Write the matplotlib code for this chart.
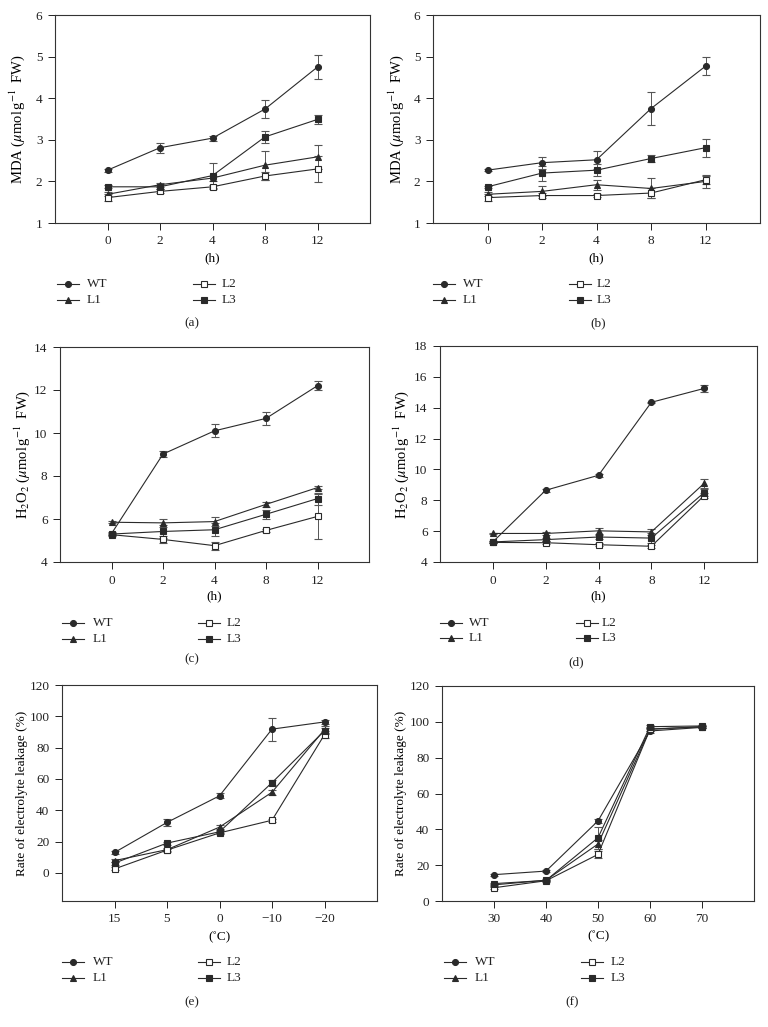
import matplotlib
matplotlib.use('Agg')
import matplotlib.pyplot as plt
from matplotlib.lines import Line2D

plt.rcParams['font.family'] = ['Liberation Serif', 'DejaVu Serif']
plt.rcParams['mathtext.fontset'] = 'stix'

# ---------------- data ----------------
series_names = ['WT', 'L1', 'L2', 'L3']
hours = ['0', '2', '4', '8', '12']
cold_temps = ['15', '5', '0', '\u221210', '\u221220']
heat_temps = ['30', '40', '50', '60', '70']

# (a) MDA
a_WT = [2.27, 2.81, 3.04, 3.74, 4.75]
a_L1 = [1.69, 1.92, 2.08, 2.39, 2.59]
a_L2 = [1.61, 1.76, 1.87, 2.13, 2.30]
a_L3 = [1.87, 1.87, 2.14, 3.07, 3.49]
a_WT_err = [0.04, 0.12, 0.06, 0.22, 0.29]
a_L1_err = [0.05, 0.05, 0.06, 0.35, 0.28]
a_L2_err = [0.09, 0.05, 0.05, 0.10, 0.32]
a_L3_err = [0.04, 0.05, 0.30, 0.15, 0.10]

# (b) MDA
b_WT = [2.27, 2.45, 2.52, 3.75, 4.77]
b_L1 = [1.69, 1.76, 1.92, 1.83, 2.00]
b_L2 = [1.61, 1.66, 1.66, 1.72, 2.04]
b_L3 = [1.87, 2.20, 2.27, 2.55, 2.81]
b_WT_err = [0.03, 0.14, 0.22, 0.39, 0.21]
b_L1_err = [0.05, 0.12, 0.12, 0.24, 0.16]
b_L2_err = [0.08, 0.05, 0.04, 0.12, 0.10]
b_L3_err = [0.03, 0.18, 0.15, 0.08, 0.22]

# (c) H2O2
c_WT = [5.32, 9.02, 10.10, 10.68, 12.20]
c_L1 = [5.85, 5.82, 5.88, 6.68, 7.46]
c_L2 = [5.27, 5.05, 4.76, 5.47, 6.12]
c_L3 = [5.30, 5.42, 5.50, 6.22, 6.95]
c_WT_err = [0.08, 0.15, 0.30, 0.30, 0.20]
c_L1_err = [0.05, 0.20, 0.22, 0.12, 0.08]
c_L2_err = [0.05, 0.15, 0.18, 0.06, 1.06]
c_L3_err = [0.05, 0.30, 0.30, 0.22, 0.28]

# (d) H2O2
d_WT = [5.30, 8.65, 9.62, 14.35, 15.25]
d_L1 = [5.85, 5.85, 6.02, 5.95, 9.10]
d_L2 = [5.27, 5.25, 5.12, 5.02, 8.30]
d_L3 = [5.30, 5.45, 5.62, 5.55, 8.50]
d_WT_err = [0.05, 0.10, 0.10, 0.05, 0.25]
d_L1_err = [0.05, 0.10, 0.20, 0.20, 0.28]
d_L2_err = [0.05, 0.10, 0.10, 0.10, 0.15]
d_L3_err = [0.05, 0.10, 0.10, 0.30, 0.20]

# (e) electrolyte leakage, cold
e_WT = [13.0, 32.2, 49.2, 91.8, 96.4]
e_L1 = [7.8, 14.8, 29.2, 51.5, 91.5]
e_L2 = [2.5, 14.5, 25.5, 33.6, 88.3]
e_L3 = [6.2, 19.0, 26.2, 57.6, 90.8]
e_WT_err = [1.0, 2.5, 1.5, 7.3, 1.2]
e_L1_err = [1.0, 1.0, 1.5, 1.5, 2.0]
e_L2_err = [1.0, 1.0, 1.0, 1.0, 2.3]
e_L3_err = [1.0, 1.0, 1.0, 1.5, 2.0]

# (f) electrolyte leakage, heat
f_WT = [14.7, 16.7, 44.7, 94.9, 96.9]
f_L1 = [9.0, 11.6, 31.8, 96.0, 97.2]
f_L2 = [7.4, 11.3, 26.0, 95.8, 97.3]
f_L3 = [9.7, 11.5, 35.3, 97.3, 97.7]
f_WT_err = [0.5, 0.5, 1.0, 1.0, 0.5]
f_L1_err = [0.5, 0.5, 2.5, 1.0, 0.5]
f_L2_err = [0.5, 0.5, 2.0, 1.0, 0.5]
f_L3_err = [0.5, 0.5, 6.0, 1.0, 0.5]

# ---------------- styling ----------------
W, H = 768, 1027
FS = 9.5
LC = '#2a2a2a'
styles = {
    'WT': dict(marker='o', mfc=LC, ms=4.3),
    'L1': dict(marker='^', mfc=LC, ms=5.0),
    'L2': dict(marker='s', mfc='white', ms=4.6),
    'L3': dict(marker='s', mfc=LC, ms=4.6),
}

fig = plt.figure(figsize=(W / 100, H / 100), dpi=100)


def px_axes(l, t, r, b):
    return fig.add_axes([l / W, 1 - b / H, (r - l) / W, (b - t) / H])


mda_label = r'MDA ($\mu$mol$\,$g$^{-1}$ $\;$FW)'
h2o2_label = r'H$_2$O$_2$ ($\mu$mol$\,$g$^{-1}$ $\;$FW)'
el_label = 'Rate of electrolyte leakage (%)'

panels = [
    dict(box=(55, 15, 370, 223), data=(a_WT, a_L1, a_L2, a_L3), err=(a_WT_err, a_L1_err, a_L2_err, a_L3_err),
         xt=hours, ylim=(1, 6), yticks=[1, 2, 3, 4, 5, 6], ylabel=mda_label, ylfs=10.5, xlabel='(h)', ylx=17, xly=258,
         leg=(57, 87, 193, 222, 284, 300), tag='(a)', tagpos=(192, 323)),
    dict(box=(433, 15, 760, 223), data=(b_WT, b_L1, b_L2, b_L3), err=(b_WT_err, b_L1_err, b_L2_err, b_L3_err),
         xt=hours, ylim=(1, 6), yticks=[1, 2, 3, 4, 5, 6], ylabel=mda_label, ylfs=10.5, xlabel='(h)', ylx=396, xly=258,
         leg=(433, 463, 569, 597, 284, 300), tag='(b)', tagpos=(598, 323)),
    dict(box=(60, 347, 369, 562), data=(c_WT, c_L1, c_L2, c_L3), err=(c_WT_err, c_L1_err, c_L2_err, c_L3_err),
         xt=hours, ylim=(4, 14), yticks=[4, 6, 8, 10, 12, 14], ylabel=h2o2_label, ylfs=10.5, xlabel='(h)', ylx=22, xly=596,
         leg=(62, 93, 198, 227, 623, 639), tag='(c)', tagpos=(192, 659)),
    dict(box=(440, 346, 757, 562), data=(d_WT, d_L1, d_L2, d_L3), err=(d_WT_err, d_L1_err, d_L2_err, d_L3_err),
         xt=hours, ylim=(4, 18), yticks=[4, 6, 8, 10, 12, 14, 16, 18], ylabel=h2o2_label, ylfs=10.5, xlabel='(h)', ylx=401, xly=596,
         leg=(440, 469, 576, 602, 623, 638), tag='(d)', tagpos=(576, 662)),
    dict(box=(62, 685, 377, 901), data=(e_WT, e_L1, e_L2, e_L3), err=(e_WT_err, e_L1_err, e_L2_err, e_L3_err),
         xt=cold_temps, ylim=(-18, 120), yticks=[0, 20, 40, 60, 80, 100, 120], ylabel=el_label, ylfs=9.5, xlabel='(\u02daC)', ylx=22, xly=937,
         leg=(62, 93, 198, 227, 962, 978), tag='(e)', tagpos=(192, 1002)),
    dict(box=(442, 686, 754, 901), data=(f_WT, f_L1, f_L2, f_L3), err=(f_WT_err, f_L1_err, f_L2_err, f_L3_err),
         xt=heat_temps, ylim=(0, 120), yticks=[0, 20, 40, 60, 80, 100, 120], ylabel=el_label, ylfs=9.5, xlabel='(\u02daC)', ylx=401, xly=936,
         leg=(444, 475, 581, 611, 962, 978), tag='(f)', tagpos=(572, 1002)),
]

for p in panels:
    l, t, r, b = p['box']
    ax = px_axes(l, t, r, b)
    x = list(range(len(p['xt'])))
    for name, vals, errs in zip(series_names, p['data'], p['err']):
        st = styles[name]
        ax.errorbar(x, vals, yerr=errs, color=LC, lw=0.8, marker=st['marker'], ms=st['ms'],
                    mfc=st['mfc'], mec=LC, mew=0.8, ecolor='#555555', elinewidth=0.7,
                    capsize=2.6, capthick=0.7, zorder=3)
    ax.set_xlim(-1, 5)
    ax.set_ylim(*p['ylim'])
    ax.set_xticks(x)
    ax.set_xticklabels(p['xt'])
    ax.set_yticks(p['yticks'])
    ax.tick_params(axis='both', direction='out', length=5, width=0.7, labelsize=FS, colors='#222222', pad=4)
    ax.tick_params(top=False, right=False)
    for s in ax.spines.values():
        s.set_linewidth(0.8)
        s.set_color('#333333')
    ax.set_ylabel(p['ylabel'], fontsize=p['ylfs'])
    ax.yaxis.set_label_coords((p['ylx'] - l) / (r - l), 0.5)
    ax.yaxis.label.set_verticalalignment('center')
    ax.set_xlabel(p['xlabel'], fontsize=FS)
    ax.xaxis.set_label_coords(0.5, -(p['xly'] - b) / (b - t))
    ax.xaxis.label.set_verticalalignment('center')

    # legend in two columns
    lx1, tx1, lx2, tx2, ry1, ry2 = p['leg']
    rows = [('WT', lx1, tx1, ry1), ('L1', lx1, tx1, ry2), ('L2', lx2, tx2, ry1), ('L3', lx2, tx2, ry2)]
    for name, lx, tx, ry in rows:
        st = styles[name]
        ln = Line2D([lx / W, (lx + 22) / W], [1 - ry / H, 1 - ry / H], transform=fig.transFigure,
                    color=LC, lw=0.8)
        mk = Line2D([(lx + 11) / W], [1 - ry / H], transform=fig.transFigure, marker=st['marker'],
                    ms=st['ms'], mfc=st['mfc'], mec=LC, mew=0.8, lw=0)
        fig.add_artist(ln)
        fig.add_artist(mk)
        fig.text(tx / W, 1 - ry / H, name, fontsize=FS, ha='left', va='center', color='#222222')
    fig.text(p['tagpos'][0] / W, 1 - p['tagpos'][1] / H, p['tag'], fontsize=FS, ha='center', va='center',
             color='#222222')

fig.savefig('out.png', dpi=100)
